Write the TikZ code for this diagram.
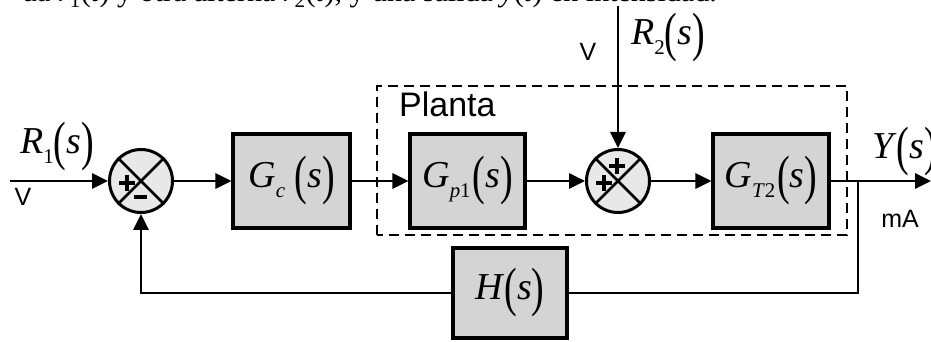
\documentclass[tikz,border=0pt]{standalone}
\usepackage{fontspec}
\usepackage{graphicx}
\setmainfont{Liberation Serif}
\setsansfont{Liberation Sans}
\usetikzlibrary{arrows.meta}

% transfer-function style labels: italic symbol, lowered subscript, tall parentheses
\newcommand\tfsym[3]{\textit{#1}\raisebox{-0.24em}{\scalebox{0.55}{#2}}\hspace{#3}}
\newcommand\tallparen[1]{\raisebox{-0.16em}{\scalebox{1}[1.42]{#1}}}
\newcommand\argS{\tallparen{(}\textit{s}\tallparen{)}}

\tikzset{
  link/.style={line width=2.9pt},
  arr/.style={link,-{Triangle[length=16pt,width=15pt]}},
  tfbox/.style={draw,line width=3.1pt,fill=black!17,inner sep=0pt,
    minimum height=94pt,font=\fontsize{38}{40}\selectfont},
  sumnode/.style={draw,circle,line width=3pt,fill=black!9,inner sep=0pt,minimum size=63pt},
  sign/.style={line width=4pt},
  biglabel/.style={font=\fontsize{38}{40}\selectfont,inner sep=0pt},
  unitlabel/.style={font=\sffamily\fontsize{25}{26}\selectfont,inner sep=0pt},
  plantbox/.style={draw,line width=2.8pt,dash pattern=on 10pt off 6pt}
}

\begin{document}
\begin{tikzpicture}[x=1pt,y=1pt]
\useasboundingbox (0,0) rectangle (931,342);

% last line of the preceding paragraph, cut by the page edge
\node[anchor=base east,inner sep=0pt,font=\fontsize{30}{30}\selectfont] (caption) at (717,340)
  {ua \textit{r}\textsubscript{1}(\textit{t}) y otra alterna \textit{r}\textsubscript{2}(\textit{t}), y una salida \textit{y}(\textit{t}) en intensidad.};

% plant boundary
\draw[plantbox] (377,107) rectangle (847,256);
\node[anchor=base west,inner sep=0pt,font=\sffamily\fontsize{34}{36}\selectfont] (planta) at (399,225) {Planta};

% summing junctions
\node[sumnode] (s1) at (141,161) {};
\node[sumnode] (s2) at (618,161) {};
\foreach \s in {s1,s2}{
  \draw[line width=2.5pt] (\s.north east) -- (\s.south west);
  \draw[line width=2.5pt] (\s.north west) -- (\s.south east);
}
% signs of the first junction
\draw[sign] (119,159) -- (135,159) (127,151) -- (127,167);
\draw[line width=3.8pt] (134,145) -- (147,145);
% signs of the second junction
\draw[sign] (609,176) -- (625,176) (617,168) -- (617,184);
\draw[sign] (596,159) -- (612,159) (604,151) -- (604,167);

% blocks
\node[tfbox,minimum width=117pt] (gc) at (291.5,161) {\tfsym{G}{\textit{c}}{0.25em}\argS};
\node[tfbox,minimum width=115pt] (gp1) at (467.5,161) {\tfsym{G}{\textit{p}1}{0.05em}\argS};
\node[tfbox,minimum width=116pt] (gt2) at (771,161) {\tfsym{G}{\textit{T}2}{0.05em}\argS};
\node[tfbox,minimum width=114pt,minimum height=90pt] (h) at (510,49) {\tfsym{H}{}{0em}\argS};

% signal points
\coordinate (in) at (10,161);
\coordinate (out) at (931,161);
\coordinate (br) at (858,161);
\coordinate (fbr) at (858,49);
\coordinate (fbl) at (141,49);
\coordinate (dist) at (618,336);

% forward path
\draw[arr] (in) -- (s1.west);
\draw[arr] (s1.east) -- (gc.west);
\draw[arr] (gc.east) -- (gp1.west);
\draw[arr] (gp1.east) -- (s2.west);
\draw[arr] (s2.east) -- (gt2.west);
\draw[arr] (gt2.east) -- (out);
\draw[arr] (dist) -- (s2.north);

% feedback path
\draw[link] (br) -- (fbr) -- (h.east);
\draw[arr] (h.west) -- (fbl) -- (s1.south);

% signal labels
\node[biglabel] (r1) at (57,195) {\tfsym{R}{1}{0em}\argS};
\node[unitlabel] (v1) at (23,145) {V};
\node[biglabel] (r2) at (668,304) {\tfsym{R}{2}{0em}\argS};
\node[unitlabel] (v2) at (588,290) {V};
\node[biglabel,anchor=west] (y) at (872,190) {\tfsym{Y}{}{0em}\argS};
\node[unitlabel] (ma) at (900,123) {mA};
\end{tikzpicture}
\end{document}
